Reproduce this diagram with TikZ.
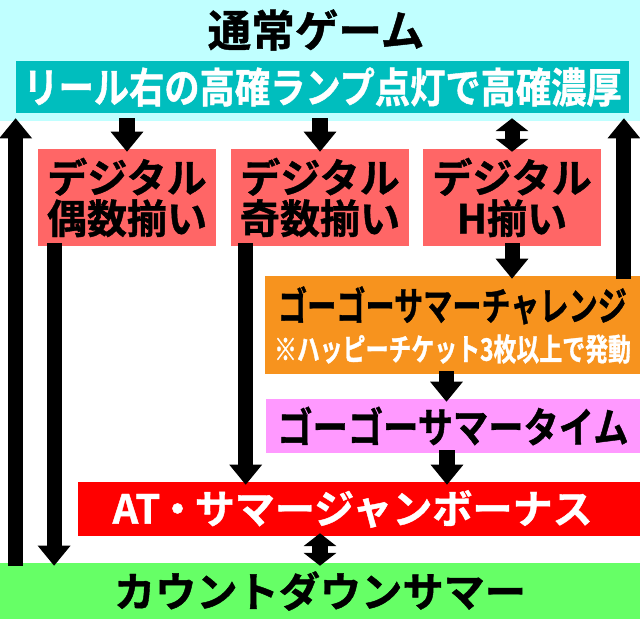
\documentclass[tikz,border=0pt]{standalone}
\usepackage{fontspec}
\usetikzlibrary{arrows.meta}
\newfontfamily\jpfont[FakeBold=1]{Noto Sans CJK JP Bold}
\newfontfamily\jpnarrow[FakeBold=1,FakeStretch=0.85]{Noto Sans CJK JP Bold}
\newfontfamily\jpcond[FakeBold=1,FakeStretch=0.74]{Noto Sans CJK JP Bold}
\definecolor{bgcyan}{RGB}{192,255,255}
\definecolor{lampteal}{RGB}{0,190,190}
\definecolor{digipink}{RGB}{255,102,102}
\definecolor{chalorange}{RGB}{247,147,30}
\definecolor{timeviolet}{RGB}{255,153,255}
\definecolor{cdgreen}{RGB}{102,255,102}

\begin{document}
\begin{tikzpicture}[x=0.025cm, y=-0.025cm,
    box/.style={rectangle, inner sep=0pt, align=center},
    digibox/.style={box, fill=digipink, minimum width=4.45cm, minimum height=2.425cm,
        font=\jpfont\fontsize{28.5}{29}\selectfont},
    arr/.style={line width=0.375cm, shorten <=-0.075cm, shorten >=-0.075cm,
        -{Triangle[width=0.82cm,length=0.5cm,line width=0pt]}},
    arr2/.style={line width=0.375cm, shorten <=-0.075cm, shorten >=-0.075cm,
        {Triangle[width=0.82cm,length=0.32cm,line width=0pt]}-{Triangle[width=0.82cm,length=0.32cm,line width=0pt]}}]
    \useasboundingbox (0,0) rectangle (640,619);
    % boxes
    \node[box, fill=bgcyan, minimum width=16cm, minimum height=3.025cm] (normal) at (320,60.5) {};
    \node[box, font=\jpfont\fontsize{31}{31}\selectfont] (title) at (316,30) {通常ゲーム};
    \node[box, fill=lampteal, minimum width=15.325cm, minimum height=1.3cm, text=white,
        font=\jpnarrow\fontsize{29.5}{30}\selectfont] (lamp) at (322.5,87) {リール右の高確ランプ点灯で高確濃厚};
    \node[digibox] (even) at (127,197.5) {デジタル\\偶数揃い};
    \node[digibox] (odd) at (320,197.5) {デジタル\\奇数揃い};
    \node[digibox] (hsame) at (512,197.5) {デジタル\\H揃い};
    \node[box, fill=chalorange, minimum width=9.375cm, minimum height=2.45cm] (chal) at (452.5,325)
        {{\jpcond\fontsize{28}{30}\selectfont ゴーゴーサマーチャレンジ}\\[6pt]
         {\color{white}\jpcond\fontsize{22}{24}\selectfont ※ハッピーチケット3枚以上で発動}};
    \node[box, fill=timeviolet, minimum width=9.35cm, minimum height=1.35cm,
        font=\jpnarrow\fontsize{29.5}{30}\selectfont] (time) at (453,426) {ゴーゴーサマータイム};
    \node[box, fill=red, minimum width=14.05cm, minimum height=1.35cm, text=white,
        font=\jpfont\fontsize{28.5}{30}\selectfont] (bonus) at (359,509) {AT\kern-2pt・\kern-2pt サマージャンボーナス\kern9pt};
    \node[box, fill=cdgreen, minimum width=16cm, minimum height=1.4cm,
        font=\jpfont\fontsize{29.3}{30}\selectfont] (countdown) at (320,591) {カウントダウンサマー};
    % arrows
    \draw[arr] ([xshift=0.4cm]countdown.north west) -- ([xshift=0.4cm]normal.south west);
    \draw[arr] (normal.south -| even) -- (even.north);
    \draw[arr] (normal.south -| odd) -- (odd.north);
    \draw[arr2] (normal.south -| hsame) -- (hsame.north);
    \draw[arr] (hsame.south) -- (hsame.south |- chal.north);
    \draw[arr] ([xshift=-0.41cm]chal.north east) -- ([xshift=-0.41cm]chal.north east |- normal.south);
    \draw[arr] ([xshift=0.41cm]even.south west) -- ([xshift=0.41cm]even.south west |- countdown.north);
    \draw[arr] ([xshift=0.375cm]odd.south west) -- ([xshift=0.375cm]odd.south west |- bonus.north);
    \draw[arr] ([xshift=-0.15cm]chal.south) -- ([xshift=-0.15cm]chal.south |- time.north);
    \draw[arr] ([xshift=-0.15cm]time.south) -- ([xshift=-0.15cm]time.south |- bonus.north);
    \draw[arr2] (countdown.north |- bonus.south) -- (countdown.north);
\end{tikzpicture}
\end{document}
